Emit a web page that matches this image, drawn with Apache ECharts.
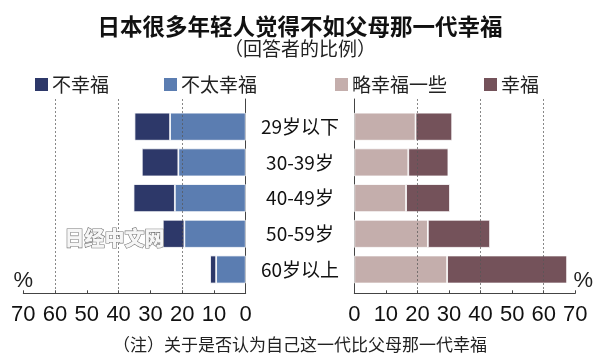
<!DOCTYPE html>
<html><head><meta charset="utf-8">
<script src="https://cdn.jsdelivr.net/npm/echarts@6/dist/echarts.min.js"></script>
<style>html,body{margin:0;padding:0;background:#fff}#c{width:600px;height:364px}</style>
</head><body><div id="c"></div>
<script>
var categories = ['29岁以下', '30-39岁', '40-49岁', '50-59岁', '60岁以上'];
var notHappy = [11.2, 11.5, 13.0, 6.8, 1.9];
var notVeryHappy = [23.8, 21.2, 22.3, 19.3, 9.3];
var slightlyHappy = [19.4, 17.1, 16.4, 23.3, 29.4];
var happy = [11.6, 12.7, 13.9, 19.7, 38.0];
var axisMin = 0, axisMax = 70, tickStep = 10, gridStep = 20;

var CJK = '"Noto Sans CJK SC", "Noto Sans", sans-serif';
var NUM = '"Liberation Sans Narrow", "Liberation Sans", Arial, sans-serif';
var colors = {nh: '#2d3869', nvh: '#5b7db1', sh: '#c4aeac', h: '#74525a'};

function frameX(grid, inverse) {
  return {
    gridIndex: grid, type: 'value', min: axisMin, max: axisMax, interval: tickStep, inverse: inverse,
    axisLine: {show: true, lineStyle: {color: '#444', width: 1}},
    axisTick: {show: true, inside: true, length: 3, lineStyle: {color: '#444'}},
    axisLabel: {fontFamily: NUM, fontSize: 22, color: '#111', margin: 11},
    splitLine: {show: false},
    name: '%', nameLocation: 'end', nameGap: inverse ? 0 : 8,
    nameTextStyle: {fontFamily: NUM, fontSize: 22, color: '#222', align: 'center', verticalAlign: 'bottom', padding: [0, 0, 1, 0]}
  };
}
function gridLinesX(grid, inverse) {
  return {
    gridIndex: grid, type: 'value', min: axisMin, max: axisMax, interval: gridStep, inverse: inverse, z: 10,
    axisLine: {show: false}, axisTick: {show: false}, axisLabel: {show: false},
    splitLine: {show: true, showMinLine: false, showMaxLine: false, lineStyle: {color: '#555', type: [2, 2], width: 1, opacity: 0.7}}
  };
}
function hiddenX(grid, inverse) {
  return {gridIndex: grid, type: 'value', min: axisMin, max: axisMax, inverse: inverse, show: false};
}

var option = {
  backgroundColor: '#fff',
  animation: false,
  title: [
    {text: '日本很多年轻人觉得不如父母那一代幸福', left: 'center', top: 10,
     textStyle: {fontFamily: CJK, fontSize: 22.5, fontWeight: 'bold', color: '#111'}},
    {text: '（回答者的比例）', left: 'center', top: 34,
     textStyle: {fontFamily: CJK, fontSize: 19, fontWeight: 'normal', color: '#222'}},
    {text: '（注）关于是否认为自己这一代比父母那一代幸福', left: 'center', top: 331,
     textStyle: {fontFamily: CJK, fontSize: 17, fontWeight: 'normal', color: '#222'}}
  ],
  legend: [
    {data: ['不幸福'], left: 28, top: 70},
    {data: ['不太幸福'], left: 157, top: 70},
    {data: ['略幸福一些'], left: 328, top: 70},
    {data: ['幸福'], left: 477, top: 70}
  ].map(function (l) {
    l.icon = 'rect'; l.itemWidth = 15; l.itemHeight = 15; l.padding = 5;
    l.textStyle = {fontFamily: CJK, fontSize: 19, color: '#222', padding: [0, 0, 0, -2]};
    return l;
  }),
  grid: [
    {left: 23.3, width: 222.4, top: 99, bottom: 70.7},
    {left: 23.3, width: 222.4, top: 108.85, bottom: 76.65},
    {left: 354.3, width: 221, top: 99, bottom: 70.7},
    {left: 354.3, width: 221, top: 108.85, bottom: 76.65}
  ],
  xAxis: [
    frameX(0, true), gridLinesX(0, true), hiddenX(1, true),
    frameX(2, false), gridLinesX(2, false), hiddenX(3, false)
  ],
  yAxis: [
    {gridIndex: 0, type: 'value', position: 'right', axisLine: {show: true, onZero: false, lineStyle: {color: '#444'}},
     axisTick: {show: false}, axisLabel: {show: false}, splitLine: {show: false}},
    {gridIndex: 1, type: 'category', data: categories, inverse: true, position: 'right',
     axisLine: {show: false}, axisTick: {show: false}, splitLine: {show: false},
     axisLabel: {align: 'center', margin: 54.3, fontFamily: CJK, fontSize: 19, color: '#111'}},
    {gridIndex: 2, type: 'value', position: 'left', axisLine: {show: true, onZero: false, lineStyle: {color: '#444'}},
     axisTick: {show: false}, axisLabel: {show: false}, splitLine: {show: false}},
    {gridIndex: 3, type: 'category', data: categories, inverse: true, position: 'left', show: false}
  ],
  graphic: [
    {type: 'text', left: 64, top: 228, z: 20,
     style: {text: '日经中文网', font: '900 20px ' + CJK, fill: '#f6f6f6', stroke: '#777', lineWidth: 1.2}}
  ],
  series: [
    {name: '不太幸福', type: 'bar', xAxisIndex: 2, yAxisIndex: 1, stack: 'L', data: notVeryHappy, barWidth: 28,
     itemStyle: {color: colors.nvh, borderColor: '#fff', borderWidth: 0.8}},
    {name: '不幸福', type: 'bar', xAxisIndex: 2, yAxisIndex: 1, stack: 'L', data: notHappy, barWidth: 28,
     itemStyle: {color: colors.nh, borderColor: '#fff', borderWidth: 0.8}},
    {name: '略幸福一些', type: 'bar', xAxisIndex: 5, yAxisIndex: 3, stack: 'R', data: slightlyHappy, barWidth: 28,
     itemStyle: {color: colors.sh, borderColor: '#fff', borderWidth: 0.8}},
    {name: '幸福', type: 'bar', xAxisIndex: 5, yAxisIndex: 3, stack: 'R', data: happy, barWidth: 28,
     itemStyle: {color: colors.h, borderColor: '#fff', borderWidth: 0.8}}
  ]
};
var chart = echarts.init(document.getElementById('c'), null, {renderer: 'canvas'});
chart.setOption(option);
</script></body></html>
